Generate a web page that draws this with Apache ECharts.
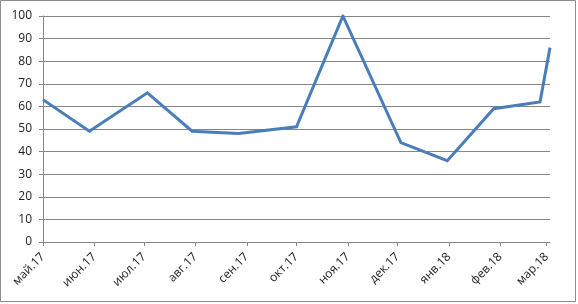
<!DOCTYPE html>
<html>
<head>
<meta charset="utf-8">
<script src="https://cdn.jsdelivr.net/npm/echarts@6/dist/echarts.min.js"></script>
<style>
  html, body { margin: 0; padding: 0; background: #fff; }
  #chart { width: 578px; height: 304px; }
</style>
</head>
<body>
<div id="chart"></div>
<script>
  const pointDates = ['2017-05-01', '2017-05-29', '2017-07-03', '2017-07-30', '2017-08-27', '2017-10-01',
    '2017-10-29', '2017-12-03', '2017-12-31', '2018-01-28', '2018-02-25', '2018-03-03'];
  const values = [63, 49, 66, 49, 48, 51, 100, 44, 36, 59, 62, 86];

  // month ticks of the x axis and their labels
  const tickDates = ['2017-05-01', '2017-06-01', '2017-07-01', '2017-08-01', '2017-09-01', '2017-10-01',
    '2017-11-01', '2017-12-01', '2018-01-01', '2018-02-01', '2018-03-01'];
  const tickLabels = ['май.17', 'июн.17', 'июл.17', 'авг.17', 'сен.17', 'окт.17',
    'ноя.17', 'дек.17', 'янв.18', 'фев.18', 'мар.18'];
  const yTicks = [0, 10, 20, 30, 40, 50, 60, 70, 80, 90, 100];

  // day number counted from the first date, so the x axis is a plain value axis
  const toDay = s => {
    const p = s.split('-');
    return Date.UTC(+p[0], +p[1] - 1, +p[2]) / 86400000;
  };
  const day0 = toDay(pointDates[0]);
  const tickDays = tickDates.map(d => toDay(d) - day0);
  const gray = '#868686';
  const font = 'Open Sans';

  const chart = echarts.init(document.getElementById('chart'));
  chart.setOption({
    animation: false,
    graphic: [{
      type: 'rect',
      shape: { x: 0.5, y: 0.5, width: 575, height: 301 },
      style: { fill: 'none', stroke: '#8c8c8c', lineWidth: 1 },
      silent: true
    }],
    grid: {
      left: 43,
      right: 28,
      top: 16,
      bottom: 62,
      containLabel: false
    },
    xAxis: {
      type: 'value',
      min: 0,
      max: toDay(pointDates[pointDates.length - 1]) - day0,
      axisLine: { show: true, onZero: false, lineStyle: { color: gray, width: 1 } },
      axisTick: { show: true, length: 4, customValues: tickDays, lineStyle: { color: gray } },
      splitLine: { show: false },
      axisLabel: {
        customValues: tickDays,
        rotate: 45,
        margin: 13,
        fontFamily: font,
        fontSize: 12,
        color: '#222',
        formatter: function (value) {
          const i = tickDays.indexOf(value);
          return i >= 0 ? tickLabels[i] : '';
        }
      }
    },
    yAxis: {
      type: 'value',
      min: yTicks[0],
      max: yTicks[yTicks.length - 1],
      interval: 10,
      axisLine: { show: true, lineStyle: { color: gray, width: 1 } },
      axisTick: { show: true, length: 4, lineStyle: { color: gray } },
      splitLine: { show: true, lineStyle: { color: gray, width: 1 } },
      axisLabel: {
        margin: 11,
        fontFamily: font,
        fontSize: 12,
        color: '#222'
      }
    },
    series: [{
      type: 'line',
      data: pointDates.map((d, i) => [toDay(d) - day0, values[i]]),
      showSymbol: false,
      lineStyle: { color: '#4a7ebb', width: 3, join: 'miter' },
      itemStyle: { color: '#4a7ebb' }
    }]
  });
</script>
</body>
</html>
